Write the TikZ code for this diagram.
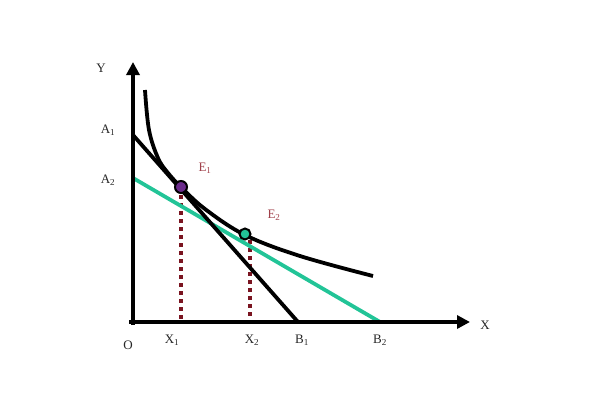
\documentclass[tikz,border=0pt]{standalone}
\usepackage{fontspec}
\setmainfont{Liberation Serif}
\usetikzlibrary{arrows.meta}
\definecolor{grn}{HTML}{22C497}
\definecolor{drk}{HTML}{7A1420}
\definecolor{lbl}{HTML}{A0404A}
\definecolor{pur}{HTML}{6A2A8A}
\tikzset{
  axis/.style={line width=4pt,-{Triangle[length=13pt,width=13pt]}},
  budget/.style={line width=3.8pt},
  proj/.style={line width=4.5pt,drk,dash pattern=on 4pt off 4pt},
  lab/.style={font=\fontsize{13}{15}\selectfont,text=black!85},
  elab/.style={font=\fontsize{13}{15}\selectfont,text=lbl}
}
\begin{document}
\begin{tikzpicture}[x=1pt,y=-1pt]
\useasboundingbox (0,0) rectangle (600,400);
% named points
\coordinate (O) at (133,322);
\coordinate (Ytop) at (133,62);
\coordinate (Xend) at (470,322);
\coordinate (A1) at (133,135);
\coordinate (B1) at (298,322);
\coordinate (A2) at (133,178);
\coordinate (B2) at (380,322);
\coordinate (E1) at (181,187);
\coordinate (E2) at (245,234);
\coordinate (X1) at (181,322);
\coordinate (X2) at (250,322);
% projections
\draw[proj] (E1) -- (X1);
\draw[proj] (250,240) -- (X2);
% budget lines
\draw[budget,grn] (A2) -- (B2);
\draw[budget,black] (A1) -- (B1);
% indifference curve
\draw[line width=3.8pt,black] plot[smooth,tension=0.6] coordinates
 {(145,90) (149,130) (158,158) (168,173) (181,187) (205,209) (245,235) (300,256) (373,276)};
% axes
\draw[axis] (133,325) -- (Ytop);
\draw[axis] (129,322) -- (Xend);
% points
\fill[pur,draw=black,line width=2pt] (E1) circle (6pt);
\fill[grn,draw=black,line width=2pt] (E2) circle (5.5pt);
% labels
\node[lab] (lY) at (101,68) {Y};
\node[lab] (lX) at (485,325) {X};
\node[lab] (lO) at (128,345) {O};
\node[lab] (lA1) at (108,130) {A\textsubscript{1}};
\node[lab] (lA2) at (108,180) {A\textsubscript{2}};
\node[lab] (lX1) at (172,340) {X\textsubscript{1}};
\node[lab] (lX2) at (252,340) {X\textsubscript{2}};
\node[lab] (lB1) at (302,340) {B\textsubscript{1}};
\node[lab] (lB2) at (380,340) {B\textsubscript{2}};
\node[elab] (lE1) at (205,168) {E\textsubscript{1}};
\node[elab] (lE2) at (274,215) {E\textsubscript{2}};
\end{tikzpicture}
\end{document}
